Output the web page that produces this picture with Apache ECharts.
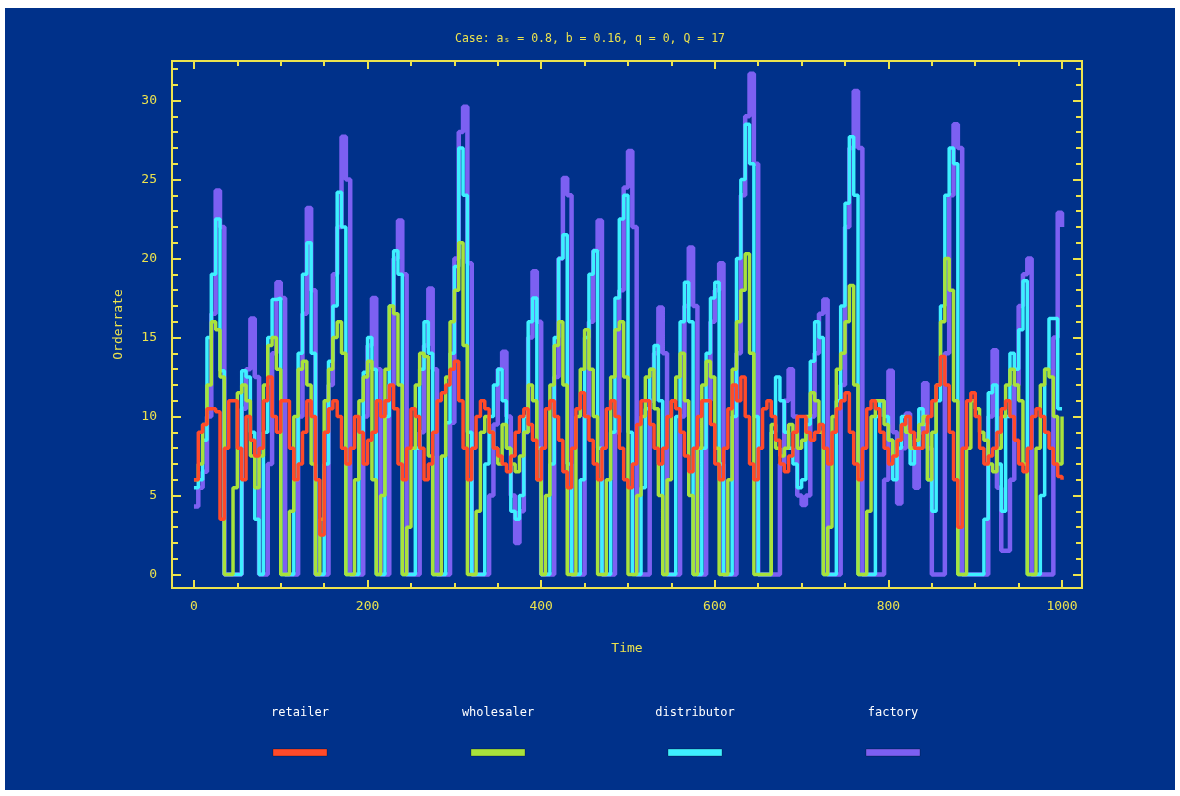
<!DOCTYPE html>
<html><head><meta charset="utf-8">
<script src="https://cdn.jsdelivr.net/npm/echarts@6/dist/echarts.min.js"></script>
<style>
html,body{margin:0;padding:0;background:#fff;}
#bg{position:absolute;left:5px;top:8px;width:1170px;height:782px;background:#00318a;}
#chart{position:absolute;left:0;top:0;width:1180px;height:796px;}
</style></head><body>
<div id="bg"></div><div id="chart"></div>
<script>
// time step between samples (time units)
const TIME_STEP = 5;

const factory = [
  4.3, 5.5, 6.5, 10, 16.5, 24.3, 22, 0, 0, 0,
  0, 10.5, 13, 16.2, 12.5, 0, 0, 7, 14, 18.5,
  17.5, 0, 0, 0, 10, 16.5, 23.2, 18, 0, 0,
  0, 12, 19, 22, 27.7, 25, 0, 0, 0, 10,
  14.5, 17.5, 13, 0, 0, 12, 20, 22.4, 19, 0,
  0, 0, 9, 14.5, 18.1, 13, 0, 0, 0, 9.6,
  20, 28, 29.6, 19.7, 0, 0, 0, 0, 5, 9.5,
  13, 14.1, 10, 5, 2, 4, 9, 15, 19.2, 16,
  0, 0, 0, 12.5, 20, 25.1, 24, 0, 0, 0,
  10, 16, 20.5, 22.4, 0, 0, 0, 9, 18, 24.5,
  26.8, 22, 0, 0, 0, 11, 14, 16.9, 14, 0,
  0, 0, 10, 17, 20.7, 17, 0, 0, 11, 16,
  18, 19.7, 0, 0, 0, 14, 24, 29, 31.7, 26,
  0, 0, 0, 0, 0, 7, 11, 13, 10, 5,
  4.4, 5, 10, 14, 16.5, 17.4, 0, 0, 0, 12,
  22, 27, 30.6, 27, 0, 0, 0, 0, 0, 6,
  12.9, 9, 4.5, 8, 10.2, 8, 5.5, 9, 12.1, 8,
  0, 0, 0, 14, 24, 28.5, 27, 0, 0, 0,
  0, 0, 0, 10, 14.2, 5.5, 1.5, 1.5, 6, 12,
  17, 19, 20, 0, 0, 0, 0, 0, 15, 22.9,
  22
];

const distributor = [
  5.5, 6, 8.5, 15, 19, 22.5, 12.9, 0, 0, 0,
  0, 12.9, 12.5, 9, 3.5, 0, 9, 15, 17.4, 17.5,
  0, 0, 0, 6, 14, 19, 21, 14, 0, 0,
  7, 13.5, 17, 24.2, 22, 0, 0, 0, 9, 12.8,
  15, 13, 0, 0, 10, 17, 20.5, 19, 0, 0,
  0, 8, 13, 16, 14, 0, 0, 0, 9.6, 14,
  19.5, 27, 24, 9, 0, 0, 0, 7, 10, 12,
  13, 11, 8, 4, 3.5, 5, 10, 16, 17.5, 8,
  0, 0, 7, 15, 20, 21.5, 7, 0, 0, 6,
  15, 19, 20.5, 8, 0, 0, 9, 17.5, 22.5, 24,
  9, 0, 0, 5.5, 10.5, 13, 14.5, 11, 0, 0,
  0, 10, 16, 18.5, 16, 0, 0, 8, 14, 17.5,
  18.5, 7, 0, 0, 10, 20, 25, 28.5, 26, 10,
  0, 0, 0, 9, 12.5, 11, 9, 8, 7, 5.5,
  6, 9.5, 13.5, 16, 15, 0, 0, 0, 11, 17,
  23.5, 27.7, 24, 0, 0, 0, 0, 10, 11, 10,
  8.5, 6, 8, 10, 9, 7, 8, 10.5, 9.5, 6,
  4, 11, 17, 24, 27, 26, 0, 0, 0, 0,
  0, 0, 3.5, 11.5, 12, 7, 4, 10, 14, 13,
  15.5, 18.6, 0, 0, 0, 5, 13, 16.2, 16.2, 10.5,
  10.5
];

const wholesaler = [
  6, 7, 9.5, 12, 16, 15.5, 12.5, 0, 0, 5.5,
  11.5, 12, 11, 7.5, 5.5, 7.5, 12, 14.5, 15, 13,
  0, 0, 4, 10, 13, 13.5, 12, 7, 0, 3.5,
  11, 13, 15, 16, 14, 0, 0, 6, 11, 12.5,
  13.5, 6, 0, 5, 13, 17, 16.5, 12, 0, 3,
  8, 12, 14, 13.8, 7.5, 0, 0, 7.5, 12.5, 16,
  18, 21, 14.5, 0, 0, 4, 9, 10, 9, 8,
  7, 9.5, 8, 7, 6.5, 7.5, 9, 12, 11, 6,
  0, 5, 12, 14.5, 16, 12, 0, 0, 10, 13,
  15.5, 13, 10, 0, 0, 6, 12.5, 15.5, 16, 12.5,
  0, 0, 5, 10, 12.5, 13, 10.5, 5, 0, 6,
  11, 12.5, 14, 11, 5, 0, 8, 12, 13.5, 12.5,
  8, 0, 0, 6, 13, 16, 18, 20.3, 14, 0,
  0, 0, 0, 9.5, 8, 7.5, 8, 9.5, 9, 8,
  8.5, 10, 11.5, 11, 9, 0, 3, 10, 13, 14,
  16, 18.3, 12, 0, 0, 4, 10, 11, 11, 9.5,
  8.5, 7.5, 8.5, 9.5, 9, 8, 8.5, 9.5, 10, 6,
  9, 12, 16, 20, 18, 11, 0, 0, 8, 11,
  10.5, 9, 8.5, 7, 6.5, 8, 10, 12, 13, 12,
  11, 7, 0, 0, 8, 12, 13, 12.5, 10, 7,
  10
];

const retailer = [
  6, 9, 9.5, 10.5, 10.5, 10.3, 3.5, 8, 11, 11,
  8, 6, 10, 8.5, 7.5, 8, 11, 12.5, 10, 9,
  11, 11, 8, 6, 7, 9, 11, 10, 6, 2.5,
  9, 10.5, 11, 10, 8, 7, 8, 10, 9, 7,
  8.5, 9, 11, 10, 11, 12, 10.5, 7, 6, 8,
  10.5, 10, 8, 6, 7, 9, 11, 11.5, 12, 13,
  13.5, 11, 8, 6, 8, 10, 11, 10.5, 9, 8,
  7.5, 7, 6.5, 7.5, 9, 10, 10.5, 9.5, 8.5, 6,
  8, 10.5, 11, 10, 8.5, 6.5, 5.5, 8, 10.5, 11.5,
  10, 8.5, 7, 6, 8, 10.5, 11, 10, 8, 6,
  5.5, 7, 9.5, 11, 11, 9.5, 8, 7, 8, 10,
  11, 10.5, 9, 7.5, 6.5, 8, 10, 11, 11, 9.5,
  7, 6, 8, 10.5, 12, 11, 12.5, 10, 7, 6,
  8, 10.5, 11, 10, 8.5, 7, 6.5, 7.5, 9, 10,
  10, 9, 8.5, 9, 9.5, 8, 7, 9, 10.5, 11,
  11.5, 9, 7, 6, 8, 10.5, 11, 10.5, 9, 8,
  7, 7.5, 8.5, 9.5, 10, 9, 8, 8, 9, 10,
  11, 12, 13.8, 12, 9, 6, 3, 8, 11, 11.5,
  10, 8, 7, 7.5, 8, 9, 10.5, 11, 10, 8.5,
  7, 6.5, 8, 10, 10.5, 10, 9, 8, 7, 6.2,
  6
];

const seriesNames = ['retailer', 'wholesaler', 'distributor', 'factory'];
const seriesData = [retailer, wholesaler, distributor, factory];
const seriesColors = ['#ff4a2a', '#a8e23c', '#3ef0ff', '#7c60f2'];
const seriesWidths = [3.5, 3.5, 3.5, 4.5];

const xTickLabels = [0, 200, 400, 600, 800, 1000];
const yTickLabels = [0, 5, 10, 15, 20, 25, 30];
const xMinorTicks = [];
for (let t = 0; t <= 1000; t += 50) xMinorTicks.push(t);
const yMinorTicks = [];
for (let v = 0; v <= 32; v += 1) yMinorTicks.push(v);

const YELLOW = '#ece34e';
const FONT = 'DejaVu Sans Mono';

const X_MIN = -25.3, X_MAX = 1023, Y_MIN = -0.85, Y_MAX = 32.5;

function xAxisDef(pos, ticks, len, labels) {
  return {
    type: 'value', position: pos, min: X_MIN, max: X_MAX,
    axisLine: { show: false, onZero: false },
    splitLine: { show: false },
    axisTick: { show: true, inside: true, length: len, customValues: ticks,
      lineStyle: { color: YELLOW, width: 2 } },
    axisLabel: labels ? { show: true, customValues: labels, color: YELLOW,
      fontFamily: FONT, fontSize: 13, margin: 12,
      formatter: v => String(v) } : { show: false }
  };
}
function yAxisDef(pos, ticks, len, labels) {
  return {
    type: 'value', position: pos, min: Y_MIN, max: Y_MAX,
    axisLine: { show: false, onZero: false },
    splitLine: { show: false },
    axisTick: { show: true, inside: true, length: len, customValues: ticks,
      lineStyle: { color: YELLOW, width: 2 } },
    axisLabel: labels ? { show: true, customValues: labels, color: YELLOW,
      fontFamily: FONT, fontSize: 13, margin: 15,
      formatter: v => String(v) } : { show: false }
  };
}

const xAxes = [
  Object.assign(xAxisDef('bottom', xTickLabels, 8, xTickLabels), {
    name: 'Time', nameLocation: 'middle', nameGap: 54,
    nameTextStyle: { color: YELLOW, fontFamily: FONT, fontSize: 13 }
  }),
  xAxisDef('bottom', xMinorTicks, 5, null),
  xAxisDef('top', xTickLabels, 8, null),
  xAxisDef('top', xMinorTicks, 5, null)
];
const yAxes = [
  Object.assign(yAxisDef('left', yTickLabels, 9, yTickLabels), {
    name: 'Orderrate', nameLocation: 'middle', nameGap: 47, nameRotate: 90,
    nameTextStyle: { color: YELLOW, fontFamily: FONT, fontSize: 13 }
  }),
  yAxisDef('left', yMinorTicks, 6, null),
  yAxisDef('right', yTickLabels, 9, null),
  yAxisDef('right', yMinorTicks, 6, null)
];

// draw order: factory at the bottom, retailer on top
const drawOrder = [3, 2, 1, 0];
const series = drawOrder.map(i => ({
  name: seriesNames[i],
  type: 'line',
  step: 'end',
  xAxisIndex: 0, yAxisIndex: 0,
  showSymbol: false, symbol: 'none',
  lineStyle: { color: seriesColors[i], width: seriesWidths[i] },
  itemStyle: { color: seriesColors[i] },
  data: seriesData[i].map((v, k) => [k * TIME_STEP, v]),
  animation: false
}));

const legendCenters = [300, 498, 695, 893];
const graphic = [];
seriesNames.forEach((n, i) => {
  graphic.push({
    type: 'text',
    style: { x: legendCenters[i], y: 713, text: n, fill: '#ffffff',
      font: '12px "' + FONT + '"', align: 'center', verticalAlign: 'middle' },
    silent: true
  });
  graphic.push({
    type: 'rect', shape: { x: legendCenters[i] - 27, y: 749, width: 54, height: 7 },
    style: { fill: seriesColors[i], stroke: 'rgba(0,0,0,0.25)', lineWidth: 1 },
    silent: true
  });
});

const chart = echarts.init(document.getElementById('chart'), null, { renderer: 'canvas' });
chart.setOption({
  backgroundColor: 'transparent',
  animation: false,
  title: {
    text: 'Case: aₛ = 0.8, b = 0.16, q = 0, Q = 17',
    left: 'center', top: 28,
    textStyle: { color: YELLOW, fontFamily: FONT, fontSize: 11.5, fontWeight: 'normal' }
  },
  grid: { left: 172, top: 61, width: 910, height: 527, show: true,
    borderColor: YELLOW, borderWidth: 2, backgroundColor: 'transparent' },
  xAxis: xAxes,
  yAxis: yAxes,
  series: series,
  graphic: graphic
});
</script>
</body></html>
